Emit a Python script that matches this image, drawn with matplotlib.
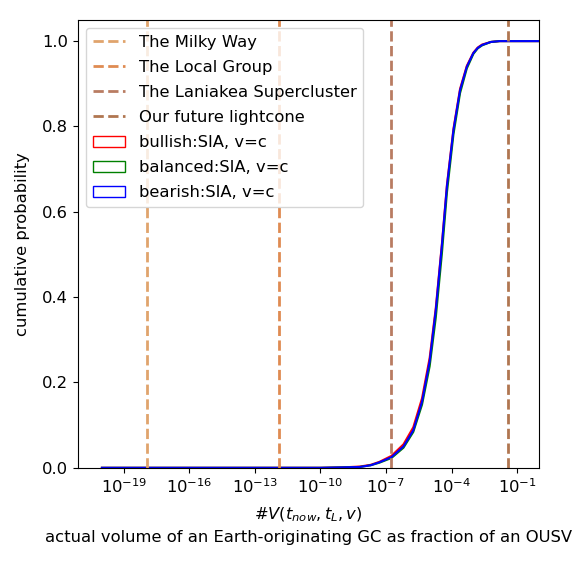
import matplotlib
matplotlib.use("Agg")
import matplotlib.pyplot as plt
from matplotlib.patches import Patch
from matplotlib.ticker import FixedLocator, NullLocator, LogFormatterSciNotation
import numpy as np

plt.rcParams['font.size'] = 11.8

# log10 of the volume fraction, and cumulative probability of each scenario
log_v = [-20, -10, -9.0, -8.2, -7.7, -7.3, -6.75, -6.2, -5.75, -5.35, -5.0,
         -4.72, -4.44, -4.21, -3.91, -3.61, -3.30, -3.0, -2.8, -2.6, -2.2, -1.8, 0]
cdf_bullish = [0, 0, 0.001, 0.003, 0.007, 0.014, 0.028, 0.055, 0.095, 0.163, 0.258,
               0.375, 0.525, 0.663, 0.795, 0.888, 0.942, 0.973, 0.985, 0.992, 0.998, 1, 1]
cdf_balanced = [0, 0, 0.001, 0.002, 0.006, 0.012, 0.023, 0.047, 0.084, 0.148, 0.238,
                0.352, 0.502, 0.645, 0.782, 0.878, 0.936, 0.970, 0.983, 0.990, 0.998, 1, 1]
cdf_bearish = [0, 0, 0.001, 0.002, 0.006, 0.013, 0.025, 0.050, 0.088, 0.155, 0.250,
               0.370, 0.522, 0.660, 0.792, 0.885, 0.940, 0.972, 0.984, 0.991, 0.998, 1, 1]

# reference volumes (log10 of fraction)
ref_names = ["The Milky Way", "The Local Group", "The Laniakea Supercluster", "Our future lightcone"]
ref_log_v = [-17.93, -11.89, -6.77, -1.4]
ref_colors = ["#e0a46c", "#df8b52", "#b97c62", "#b07650"]

series = [("bullish:SIA, v=c", cdf_bullish, "red"),
          ("balanced:SIA, v=c", cdf_balanced, "green"),
          ("bearish:SIA, v=c", cdf_bearish, "blue")]

fig = plt.figure(figsize=(5.77, 5.65), dpi=100)
ax = fig.add_axes([0.135, 0.172, 0.799, 0.793])

x = 10.0 ** np.array(log_v)
handles = []
for lv, name, c in zip(ref_log_v, ref_names, ref_colors):
    h = ax.axvline(10.0 ** lv, color=c, ls="--", lw=2, label=name, zorder=2)
    handles.append(h)
for name, cdf, c in series:
    ax.plot(x, cdf, color=c, lw=1.5, zorder=1.5)
    handles.append(Patch(facecolor="none", edgecolor=c, label=name))

ax.set_xscale("log")
ax.set_xlim(10 ** -21.1, 1)
ax.set_ylim(0, 1.05)
ax.xaxis.set_major_locator(FixedLocator([10.0 ** k for k in range(-19, 0, 3)]))
ax.xaxis.set_major_formatter(LogFormatterSciNotation())
ax.xaxis.set_minor_locator(NullLocator())
ax.set_yticks([0, 0.2, 0.4, 0.6, 0.8, 1.0])

ax.set_xlabel("#$V(t_{now}, t_L, v)$\nactual volume of an Earth-originating GC as fraction of an OUSV",
              labelpad=7, linespacing=1.45)
ax.set_ylabel("cumulative probability", labelpad=9)
ax.legend(handles=handles, loc="upper left", labelspacing=0.62)

fig.savefig("out.png", dpi=100)
